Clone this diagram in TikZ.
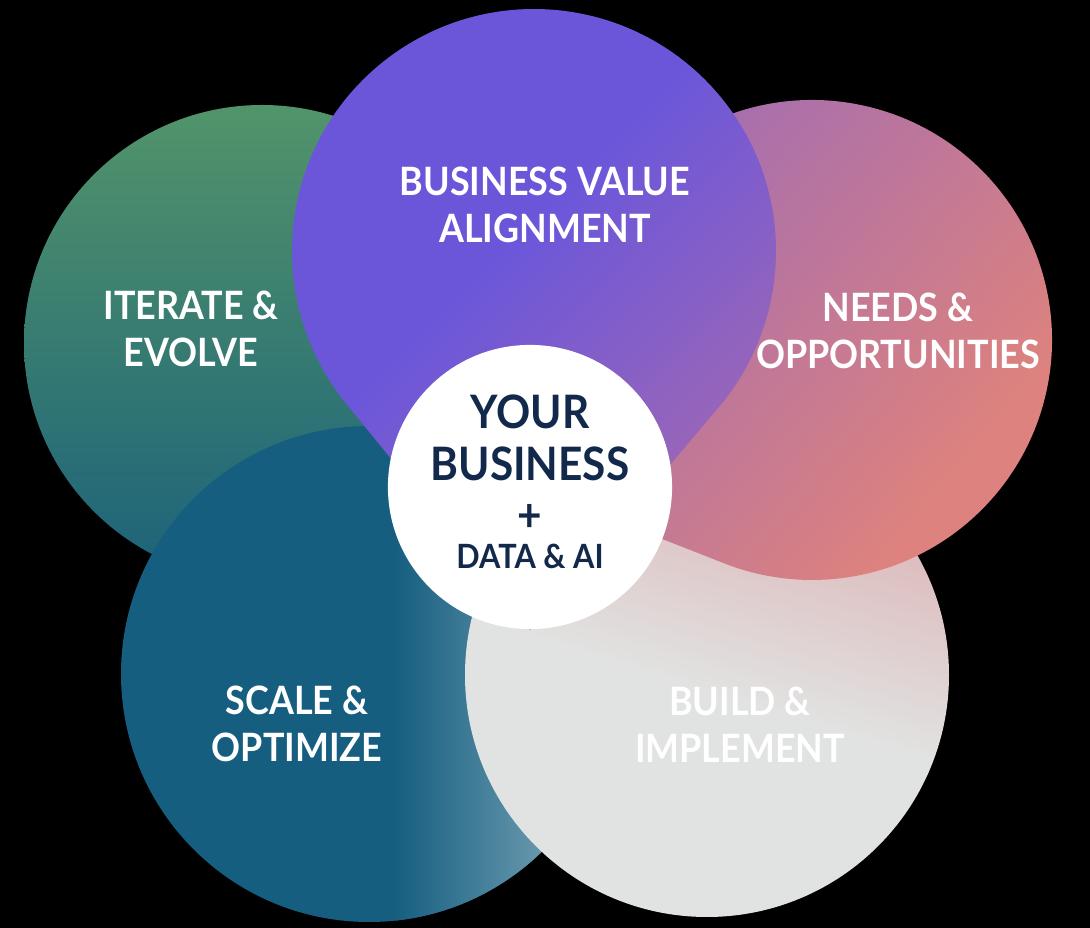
\documentclass[tikz,border=0pt]{standalone}
\usepackage{fontspec}
\setsansfont{Lato}[FakeStretch=0.92]
\usepackage{tikz}

\definecolor{leafTop}{RGB}{82,148,106}
\definecolor{leafBot}{RGB}{28,98,122}
\definecolor{violetA}{RGB}{107,86,218}
\definecolor{violetB}{RGB}{170,108,172}
\definecolor{lavA}{RGB}{166,110,175}
\definecolor{salmonB}{RGB}{221,130,126}
\definecolor{tealDark}{RGB}{22,94,128}
\definecolor{tealLight}{RGB}{112,158,178}
\definecolor{grayBase}{RGB}{225,227,226}
\definecolor{grayPink}{RGB}{221,182,184}
\definecolor{coreNavy}{RGB}{19,41,75}

\pgfdeclarehorizontalshading{violetshade}{100bp}{color(0bp)=(violetA); color(45bp)=(violetA); color(78bp)=(violetB); color(100bp)=(violetB)}
\pgfdeclarehorizontalshading{salmonshade}{100bp}{color(0bp)=(lavA); color(30bp)=(lavA); color(70bp)=(salmonB); color(100bp)=(salmonB)}
\pgfdeclarehorizontalshading{grayshade}{100bp}{color(0bp)=(grayBase); color(48bp)=(grayBase); color(72bp)=(grayPink); color(100bp)=(grayPink)}

\tikzset{
  petaltext/.style = {font=\sffamily\bfseries\fontsize{11.1}{13.3}\selectfont,
                      text=white, align=center, inner sep=0pt},
  coredisc/.style  = {circle, fill=white, minimum size=2.84cm, inner sep=0pt},
  coretext/.style  = {text=coreNavy, align=center, inner sep=0pt,
                      font=\sffamily\bfseries\fontsize{13.1}{14.6}\selectfont},
}

% teardrop: centre (#1,#2), radius #3, tip (#4,#5)
\newcommand{\setpetal}[5]{%
  \pgfmathsetmacro\petA{atan2((#5)-(#2),(#4)-(#1))}%
  \pgfmathsetmacro\petB{acos((#3)/veclen((#4)-(#1),(#5)-(#2)))}%
  \pgfmathsetmacro\petS{\petA+\petB}%
  \pgfmathsetmacro\petE{\petA-\petB+360}%
  \pgfmathsetmacro\petX{(#1)+(#3)*cos(\petS)}%
  \pgfmathsetmacro\petY{(#2)+(#3)*sin(\petS)}%
  \edef\petalpath{(#4,#5) -- (\petX,\petY) arc[start angle=\petS, end angle=\petE, radius=#3] -- cycle}}

\begin{document}
\begin{tikzpicture}[x=0.01cm, y=-0.01cm]
  \useasboundingbox (0,0) rectangle (1090,928);
  \fill[black] (0,0) rectangle (1090,928);

  % Iterate (green)
  \shade[top color=leafTop, bottom color=leafBot] (262,343) circle[radius=238];

  % Scale (teal)
  \begin{scope}
    \clip (369,674) circle[radius=248];
    \fill[tealDark] (369,674) circle[radius=248];
    \shade[left color=tealDark, right color=tealLight] (395,420) rectangle (560,930);
    \fill[tealLight] (560,420) rectangle (620,930);
  \end{scope}

  % Build (gray)
  \shade[shading=grayshade, shading angle=73] (707,675) circle[radius=242];

  % Needs (pink)
  \setpetal{812}{340}{240}{530}{487}
  \shade[shading=salmonshade, shading angle=-40] \petalpath;

  % Business value (violet)
  \setpetal{534}{251}{242}{530}{630}
  \shade[shading=violetshade, shading angle=-45] \petalpath;

  % centre
  \node[coredisc] (core) at (530,487) {};
  \node[coretext] (coreline) at ([yshift=0.05cm]core.center)
    {YOUR\\BUSINESS\\+\\[-4pt]{\fontsize{9.5}{11}\selectfont DATA \& AI}};

  % labels
  \node[petaltext] (alignment) at (545,205) {BUSINESS VALUE\\ALIGNMENT};
  \node[petaltext] (iterate)   at (191,329) {ITERATE \&\\EVOLVE};
  \node[petaltext] (needs)     at (898,331) {NEEDS \&\\OPPORTUNITIES};
  \node[petaltext] (scale)     at (297,724) {SCALE \&\\OPTIMIZE};
  \node[petaltext] (build)     at (740,725) {BUILD \&\\IMPLEMENT};
\end{tikzpicture}
\end{document}
